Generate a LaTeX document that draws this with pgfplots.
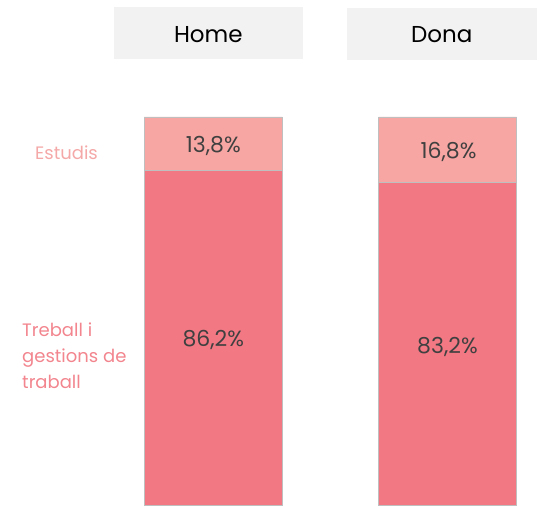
\documentclass[border=0pt]{standalone}
\usepackage{pgfplots}
\pgfplotsset{compat=1.18}
\usepackage{fontspec}
\setmainfont{Poppins}
\definecolor{cEst}{HTML}{F7A6A3}
\definecolor{cTre}{HTML}{F27884}
\definecolor{lEst}{HTML}{F4A9A8}
\definecolor{lTre}{HTML}{F2858E}
\definecolor{hdr}{HTML}{F2F2F2}
\definecolor{txt}{HTML}{404040}
\begin{document}
\begin{tikzpicture}
\begin{axis}[
  scale only axis, width=553pt, height=505pt,
  xmin=0, xmax=553, ymin=0, ymax=130.155,
  axis lines=none, clip=false,
  ybar stacked, bar width=138,
]
\addplot[fill=cTre, draw=black!25, line width=0.5pt] coordinates {(213.3,86.2) (447.5,83.2)};
\addplot[fill=cEst, draw=black!25, line width=0.5pt] coordinates {(213.3,13.8) (447.5,16.8)};
\path (axis cs:0,0) rectangle (axis cs:553,130.155);
\fill[hdr] (axis cs:114,114.95) rectangle (axis cs:302.7,128.35);
\fill[hdr] (axis cs:346.7,114.7) rectangle (axis cs:536.7,128.1);
\coordinate (hH) at (axis cs:208.3,119.25);
\coordinate (hD) at (axis cs:441.7,119.25);
\coordinate (v1) at (axis cs:213.3,90.9);
\coordinate (v2) at (axis cs:213.3,40.8);
\coordinate (v3) at (axis cs:448.5,89.4);
\coordinate (v4) at (axis cs:447.5,39.0);
\coordinate (lE) at (axis cs:35,89.0);
\coordinate (lT) at (axis cs:22,30.1);
\end{axis}
\node[font=\fontsize{23}{26}\selectfont, text=black, anchor=base, inner sep=0pt] at (hH) {Home};
\node[font=\fontsize{23}{26}\selectfont, text=black, anchor=base, inner sep=0pt] at (hD) {Dona};
\node[font=\fontsize{22}{25}\selectfont, text=txt, anchor=base, inner sep=0pt] at (v1) {13,8\%};
\node[font=\fontsize{22}{25}\selectfont, text=txt, anchor=base, inner sep=0pt] at (v2) {86,2\%};
\node[font=\fontsize{22}{25}\selectfont, text=txt, anchor=base, inner sep=0pt] at (v3) {16,8\%};
\node[font=\fontsize{22}{25}\selectfont, text=txt, anchor=base, inner sep=0pt] at (v4) {83,2\%};
\node[font=\fontsize{18}{21}\selectfont, text=lEst, anchor=base west, inner sep=0pt] at (lE) {Estudis};
\node[font=\fontsize{18}{25.8}\selectfont, text=lTre, anchor=base west, align=left, inner sep=0pt] at (lT) {Treball i\\gestions de\\traball};
\end{tikzpicture}
\end{document}
